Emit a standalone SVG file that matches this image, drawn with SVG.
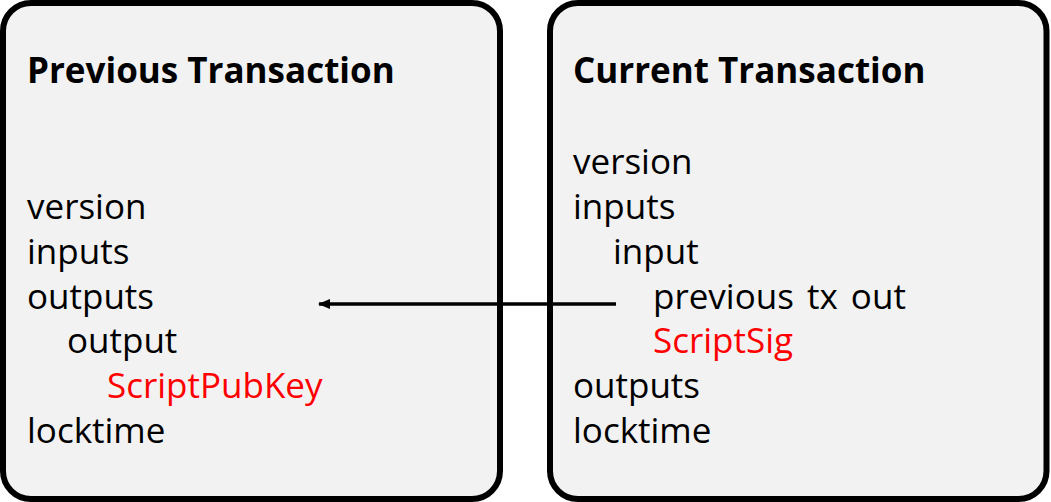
<svg xmlns="http://www.w3.org/2000/svg" width="1051" height="502" viewBox="0 0 1051 502">
<style>
.box{fill:#f2f2f2;stroke:#000;stroke-width:6}
.t{font-family:"Open Sans","Noto Sans",sans-serif;font-size:35px;fill:#000;word-spacing:4px}
.h{font-weight:bold;word-spacing:0}
.red{fill:#ff0000}
.conn{stroke:#000;stroke-width:3.5;fill:none}
</style>
<defs>
<marker id="arr" markerWidth="12" markerHeight="10" refX="11" refY="5" orient="auto" markerUnits="userSpaceOnUse">
<path d="M0,0 L12,5 L0,10 Z" fill="#000"/>
</marker>
</defs>
<rect x="0" y="0" width="1051" height="502" fill="#fff"/>
<g id="prev-tx">
<rect class="box" x="3" y="3" width="497" height="496" rx="28" ry="28"/>
<text class="t h" x="27" y="83">Previous Transaction</text>
<text class="t" x="27" y="219">version</text>
<text class="t" x="27" y="264">inputs</text>
<text class="t" x="27" y="309">outputs</text>
<text class="t" x="67" y="353">output</text>
<text class="t red" x="107" y="398">ScriptPubKey</text>
<text class="t" x="27" y="443">locktime</text>
</g>
<g id="cur-tx">
<rect class="box" x="550" y="3" width="496.5" height="496" rx="28" ry="28"/>
<text class="t h" x="573" y="83">Current Transaction</text>
<text class="t" x="573" y="174">version</text>
<text class="t" x="573" y="219">inputs</text>
<text class="t" x="613" y="264">input</text>
<text class="t" x="653" y="309">previous tx out</text>
<text class="t red" x="653" y="353">ScriptSig</text>
<text class="t" x="573" y="398">outputs</text>
<text class="t" x="573" y="443">locktime</text>
</g>
<g id="connectors">
<line class="conn" x1="616" y1="304" x2="319" y2="304" marker-end="url(#arr)"/>
</g>
</svg>
